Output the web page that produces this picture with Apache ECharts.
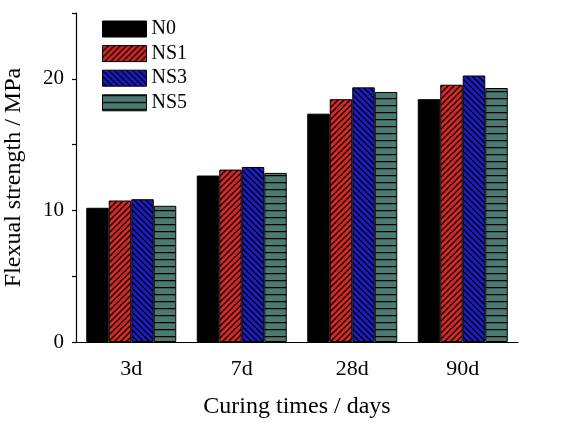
<!DOCTYPE html>
<html><head><meta charset="utf-8">
<script src="https://cdn.jsdelivr.net/npm/echarts@6/dist/echarts.min.js"></script>
<style>html,body{margin:0;padding:0;background:#fff}#c{width:587px;height:428px}</style>
</head><body><div id="c"></div>
<script>
var categories = ['3d', '7d', '28d', '90d'];
var seriesNames = ['N0', 'NS1', 'NS3', 'NS5'];
var N0 = [10.2, 12.65, 17.35, 18.45];
var NS1 = [10.75, 13.1, 18.45, 19.55];
var NS3 = [10.85, 13.3, 19.35, 20.25];
var NS5 = [10.35, 12.85, 19.0, 19.3];
var yTicks = [0, 10, 20];

function makePattern(bg, kind) {
  var s = kind === 'h' ? 7 : 6;
  var cv = document.createElement('canvas');
  cv.width = s; cv.height = s;
  var g = cv.getContext('2d');
  g.fillStyle = bg; g.fillRect(0, 0, s, s);
  g.strokeStyle = '#000'; g.lineWidth = 1.3;
  g.beginPath();
  if (kind === 'h') {
    g.moveTo(0, 0.6); g.lineTo(s, 0.6);
  } else if (kind === 'f') { // forward slash /
    g.moveTo(-1, s + 1); g.lineTo(s + 1, -1);
    g.moveTo(-1, 1); g.lineTo(1, -1);
    g.moveTo(s - 1, s + 1); g.lineTo(s + 1, s - 1);
  } else { // back slash \
    g.moveTo(-1, -1); g.lineTo(s + 1, s + 1);
    g.moveTo(s - 1, -1); g.lineTo(s + 1, 1);
    g.moveTo(-1, s - 1); g.lineTo(1, s + 1);
  }
  g.stroke();
  return { image: cv, repeat: 'repeat' };
}

var fills = [
  '#000000',
  makePattern('#d42a2a', 'f'),
  makePattern('#1c1cc8', 'b'),
  makePattern('#4b7a72', 'h')
];
var dataSets = [N0, NS1, NS3, NS5];
var font = 'Liberation Serif';

var series = seriesNames.map(function (n, i) {
  return {
    name: n, type: 'bar', data: dataSets[i], xAxisIndex: 0,
    barWidth: 22.5, barGap: '0%',
    itemStyle: { color: fills[i], borderColor: '#000', borderWidth: 1 }
  };
});

var chart = echarts.init(document.getElementById('c'), null, { renderer: 'canvas' });
chart.setOption({
  animation: false,
  backgroundColor: '#fff',
  grid: { left: 76, right: 69, top: 13, bottom: 86, containLabel: false, outerBoundsMode: 'none' },
  legend: {
    orient: 'vertical', left: 102, top: 19, padding: 0,
    icon: 'rect',
    itemWidth: 44, itemHeight: 16, itemGap: 4.6,
    data: seriesNames,
    textStyle: { fontFamily: font, fontSize: 20, lineHeight: 16, color: '#000' },
    itemStyle: { borderColor: '#000', borderWidth: 1 }
  },
  xAxis: [{
    type: 'category', data: categories,
    axisLine: { lineStyle: { color: '#000', width: 1.2 } },
    axisTick: { alignWithLabel: true, length: 6, lineStyle: { color: '#000', width: 1.2 } },
    axisLabel: { fontFamily: font, fontSize: 22, color: '#000', margin: 16 },
    name: 'Curing times / days', nameLocation: 'middle', nameGap: 53,
    nameTextStyle: { fontFamily: font, fontSize: 24, color: '#000' }
  }, {
    type: 'category', data: categories, position: 'bottom',
    axisLine: { show: false },
    axisTick: { length: 3, lineStyle: { color: '#000', width: 1.2 } },
    axisLabel: { show: false }
  }],
  yAxis: {
    type: 'value', min: 0, max: 25, interval: 5,
    splitLine: { show: false },
    axisLine: { show: true, lineStyle: { color: '#000', width: 1.2 } },
    axisTick: { show: true, length: 4, lineStyle: { color: '#000', width: 1.2 } },
    axisLabel: {
      fontFamily: font, fontSize: 21, color: '#000', margin: 12,
      formatter: function (v) { return yTicks.indexOf(v) >= 0 ? String(v) : ''; }
    },
    name: 'Flexual strength / MPa', nameLocation: 'middle', nameGap: 50,
    nameTextStyle: { fontFamily: font, fontSize: 24, color: '#000' }
  },
  series: series
});
</script></body></html>
